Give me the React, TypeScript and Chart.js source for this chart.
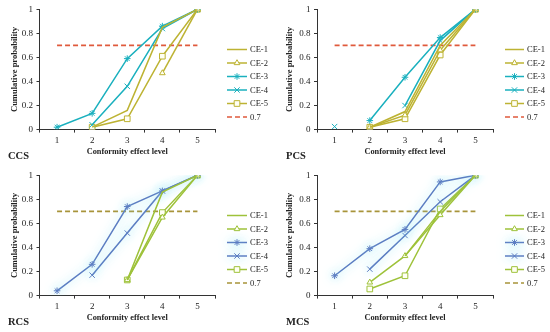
import React, { useEffect, useRef } from 'react';
import { Chart, registerables } from 'chart.js';

Chart.register(...registerables);

// ---------- data ----------
const levels = [1, 2, 3, 4, 5];
const seriesNames = ['CE-1', 'CE-2', 'CE-3', 'CE-4', 'CE-5'];
const refLabel = '0.7';
const refValues = [0.7, 0.7, 0.7, 0.7, 0.7];
const xTickLabels = ['1', '2', '3', '4', '5'];
const yTickValues = [0, 0.2, 0.4, 0.6, 0.8, 1];
const panelNames = ['CCS', 'PCS', 'RCS', 'MCS'];

const ccsCE1 = [null, 0.02, 0.16, 0.85, 1];
const ccsCE2 = [null, null, null, 0.47, 1];
const ccsCE3 = [0.02, 0.135, 0.59, 0.86, 1];
const ccsCE4 = [null, 0.04, 0.36, 0.84, 1];
const ccsCE5 = [null, 0.02, 0.09, 0.61, 1];

const pcsCE1 = [null, 0.02, 0.15, 0.7, 1];
const pcsCE2 = [null, 0.02, 0.12, 0.66, 1];
const pcsCE3 = [null, 0.075, 0.435, 0.765, 1];
const pcsCE4 = [0.025, null, 0.2, 0.74, 1];
const pcsCE5 = [null, 0.02, 0.09, 0.62, 1];

const rcsCE1 = [null, null, 0.13, 0.86, 1];
const rcsCE2 = [null, null, 0.13, 0.65, 1];
const rcsCE3 = [0.04, 0.26, 0.74, 0.87, 1];
const rcsCE4 = [null, 0.17, 0.52, 0.87, 1];
const rcsCE5 = [null, null, 0.13, 0.69, 1];

const mcsCE1 = [null, null, 0.33, 0.7, 1];
const mcsCE2 = [null, 0.11, 0.33, 0.67, 1];
const mcsCE3 = [0.165, 0.39, 0.55, 0.945, 1];
const mcsCE4 = [null, 0.22, 0.5, 0.78, 1];
const mcsCE5 = [null, 0.055, 0.165, 0.72, 1];

// ---------- styles ----------
const SERIF = "'Liberation Serif', 'Times New Roman', serif";
const AXIS = '#333333';
const TEXT = '#222222';

const paletteA = { warm: '#BDB333', cool: '#1AB0BE', ref: '#E05A3C', glow: false };
const paletteB = { warm: '#9EC23A', cool: '#5C7DC2', ref: '#A8943A', glow: true };

const markerStyles = [false, 'triangle', 'star', 'crossRot', 'rect'];
const markerRadius = [0, 3.3, 3.3, 3.8, 4];

type Layout = { left: number; right: number; legendX0: number; legendX1: number; textX: number; labelX: number };
const layoutA: Layout = { left: 39.5, right: 215, legendX0: 227, legendX1: 247, textX: 250, labelX: 8 };
const layoutB: Layout = { left: 42, right: 218, legendX0: 230, legendX1: 249, textX: 252, labelX: 11 };

const W = 275;
const H = 166;
const TOP = 9.3;
const BOTTOM = 129.6;

function drawMarker(ctx: CanvasRenderingContext2D, style: any, x: number, y: number, r: number) {
  if (!style) return;
  ctx.beginPath();
  if (style === 'triangle') {
    const h = r * Math.sqrt(3) / 2;
    ctx.moveTo(x, y - r);
    ctx.lineTo(x + h, y + r / 2);
    ctx.lineTo(x - h, y + r / 2);
    ctx.closePath();
    ctx.fill();
    ctx.stroke();
  } else if (style === 'rect') {
    const s = r * Math.SQRT1_2;
    ctx.rect(x - s, y - s, 2 * s, 2 * s);
    ctx.fill();
    ctx.stroke();
  } else if (style === 'crossRot' || style === 'star') {
    const d = r * Math.SQRT1_2;
    ctx.moveTo(x - d, y - d);
    ctx.lineTo(x + d, y + d);
    ctx.moveTo(x - d, y + d);
    ctx.lineTo(x + d, y - d);
    if (style === 'star') {
      ctx.moveTo(x - r, y);
      ctx.lineTo(x + r, y);
      ctx.moveTo(x, y - r);
      ctx.lineTo(x, y + r);
    }
    ctx.stroke();
  }
}

function Panel({ name, series, palette, layout }: { name: string; series: (number | null)[][]; palette: any; layout: Layout }) {
  const ref = useRef<HTMLCanvasElement>(null);
  useEffect(() => {
    const canvas = ref.current;
    if (!canvas) return;
    const colors = [palette.warm, palette.warm, palette.cool, palette.cool, palette.warm];
    const datasets: any[] = series.map((vals, i) => ({
      label: seriesNames[i],
      data: levels.map((x, j) => ({ x, y: vals[j] })),
      borderColor: colors[i],
      backgroundColor: i === 2 || i === 3 ? colors[i] : '#FFFFF4',
      borderWidth: 1.5,
      pointStyle: markerStyles[i],
      pointRadius: markerRadius[i],
      pointBorderWidth: 1,
      pointBorderColor: colors[i],
      pointBackgroundColor: i === 2 || i === 3 ? colors[i] : '#FFFFF4',
      spanGaps: false,
      tension: 0,
      glow: palette.glow && (i === 2 || i === 3),
    }));
    datasets.push({
      label: refLabel,
      data: levels.map((x, j) => ({ x, y: refValues[j] })),
      borderColor: palette.ref,
      backgroundColor: palette.ref,
      borderWidth: 1.6,
      borderDash: [5, 3],
      pointRadius: 0,
      pointStyle: false,
    });

    const glowPlugin = {
      id: 'glow',
      beforeDatasetDraw(chart: any, args: any) {
        const ds = chart.data.datasets[args.index];
        if (ds.glow) {
          chart.ctx.save();
          chart.ctx.shadowColor = 'rgba(140,230,245,0.9)';
          chart.ctx.shadowBlur = 10;
        }
      },
      afterDatasetDraw(chart: any, args: any) {
        const ds = chart.data.datasets[args.index];
        if (ds.glow) chart.ctx.restore();
      },
    };

    const legendPlugin = {
      id: 'customLegend',
      afterDraw(chart: any) {
        const ctx: CanvasRenderingContext2D = chart.ctx;
        ctx.save();
        chart.data.datasets.forEach((ds: any, i: number) => {
          const y = 49.5 + i * 13.5;
          ctx.save();
          if (ds.glow) {
            ctx.shadowColor = 'rgba(140,230,245,0.9)';
            ctx.shadowBlur = 10;
          }
          ctx.strokeStyle = ds.borderColor;
          ctx.lineWidth = ds.borderWidth;
          ctx.setLineDash(ds.borderDash || []);
          ctx.beginPath();
          ctx.moveTo(layout.legendX0, y);
          ctx.lineTo(layout.legendX1, y);
          ctx.stroke();
          ctx.setLineDash([]);
          ctx.lineWidth = 1;
          ctx.fillStyle = ds.pointBackgroundColor || ds.backgroundColor;
          drawMarker(ctx, ds.pointStyle, (layout.legendX0 + layout.legendX1) / 2, y, ds.pointRadius);
          ctx.restore();
          ctx.fillStyle = TEXT;
          ctx.font = `8.5px ${SERIF}`;
          ctx.textBaseline = 'middle';
          ctx.textAlign = 'left';
          ctx.fillText(ds.label, layout.textX, y + 0.5);
        });
        ctx.font = `bold 10.5px ${SERIF}`;
        ctx.fillStyle = TEXT;
        ctx.textBaseline = 'alphabetic';
        ctx.fillText(name, layout.labelX, 159);
        ctx.restore();
      },
    };

    const chart = new Chart(canvas, {
      type: 'line',
      data: { datasets },
      plugins: [glowPlugin, legendPlugin],
      options: {
        animation: false,
        responsive: false,
        maintainAspectRatio: false,
        layout: { padding: { left: 0, right: W - layout.right, top: TOP, bottom: 0 } },
        plugins: { legend: { display: false }, tooltip: { enabled: false } },
        scales: {
          x: {
            type: 'linear',
            min: 0.5,
            max: 5.5,
            afterFit: (s: any) => { s.height = H - BOTTOM; },
            afterBuildTicks: (s: any) => {
              const t: any[] = [{ value: 0.5 }];
              levels.forEach((v) => { t.push({ value: v }); t.push({ value: v + 0.5 }); });
              s.ticks = t;
            },
            ticks: {
              autoSkip: false,
              maxRotation: 0,
              padding: 3,
              color: TEXT,
              font: { family: SERIF, size: 9 },
              callback: (v: any) => {
                const idx = levels.indexOf(Number(v));
                return idx >= 0 ? xTickLabels[idx] : '';
              },
            },
            grid: {
              drawOnChartArea: false,
              drawTicks: true,
              tickLength: 3,
              color: (c: any) => (c.tick && Number.isInteger(c.tick.value) ? 'rgba(0,0,0,0)' : AXIS),
            },
            border: { display: true, color: AXIS, width: 1 },
            title: {
              display: true,
              text: 'Conformity effect level',
              color: TEXT,
              font: { family: SERIF, size: 8.3, weight: 'bold' },
              padding: { top: 0, bottom: 9.5 },
            },
          },
          y: {
            type: 'linear',
            min: 0,
            max: 1,
            afterFit: (s: any) => { s.width = layout.left; },
            afterBuildTicks: (s: any) => { s.ticks = yTickValues.map((v) => ({ value: v })); },
            ticks: {
              padding: 3.5,
              color: TEXT,
              font: { family: SERIF, size: 9 },
              callback: (v: any) => String(Number(Number(v).toFixed(1))),
            },
            grid: { drawOnChartArea: false, drawTicks: true, tickLength: 3, color: AXIS },
            border: { display: true, color: AXIS, width: 1 },
            title: {
              display: true,
              text: 'Cumulative probability',
              color: TEXT,
              font: { family: SERIF, size: 8.5, weight: 'bold' },
              padding: { top: 10, bottom: 0 },
            },
          },
        },
      } as any,
    });
    return () => chart.destroy();
  }, []);
  return <canvas ref={ref} width={W} height={H} style={{ display: 'block', width: W, height: H }} />;
}

export default function App() {
  const panels = [
    { name: panelNames[0], series: [ccsCE1, ccsCE2, ccsCE3, ccsCE4, ccsCE5], palette: paletteA, layout: layoutA },
    { name: panelNames[1], series: [pcsCE1, pcsCE2, pcsCE3, pcsCE4, pcsCE5], palette: paletteA, layout: layoutB },
    { name: panelNames[2], series: [rcsCE1, rcsCE2, rcsCE3, rcsCE4, rcsCE5], palette: paletteB, layout: layoutA },
    { name: panelNames[3], series: [mcsCE1, mcsCE2, mcsCE3, mcsCE4, mcsCE5], palette: paletteB, layout: layoutB },
  ];
  return (
    <div style={{ position: 'absolute', left: 0, top: 0, width: 550, height: 332, background: '#fff' }}>
      {panels.map((p, i) => (
        <div key={p.name} style={{ position: 'absolute', left: (i % 2) * W, top: Math.floor(i / 2) * H, width: W, height: H }}>
          <Panel name={p.name} series={p.series} palette={p.palette} layout={p.layout} />
        </div>
      ))}
    </div>
  );
}
